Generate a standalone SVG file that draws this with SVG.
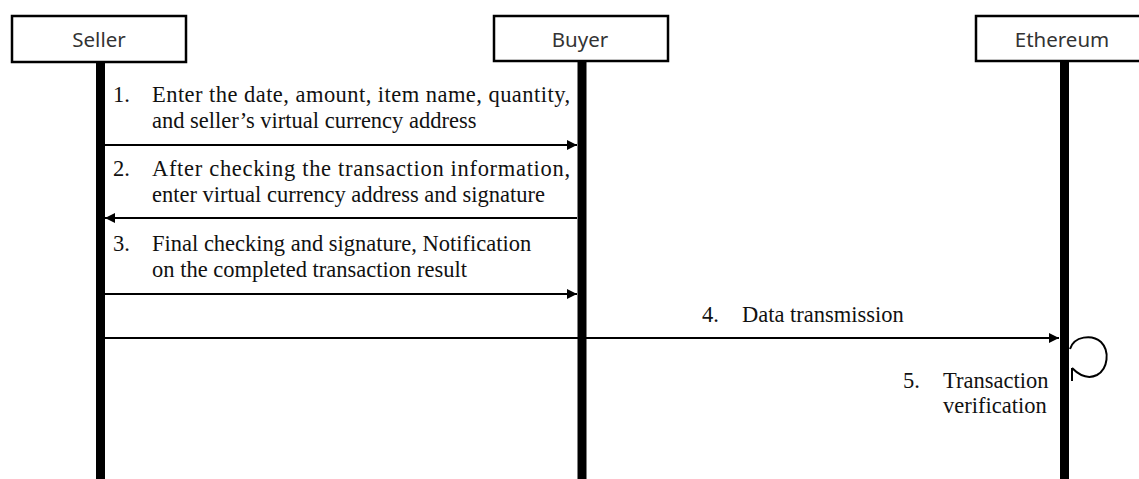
<svg xmlns="http://www.w3.org/2000/svg" width="1139" height="479" viewBox="0 0 1139 479">
<defs>
<style>
.box{fill:#fff;stroke:#000;stroke-width:2.5}
.life{stroke:#000;stroke-width:9}
.lbl{font-family:"Noto Sans","Open Sans",sans-serif;font-size:20.5px;fill:#333;text-anchor:middle}
.msg{font-family:"Liberation Serif","Times New Roman",serif;font-size:22.5px;fill:#111}
.arr{stroke:#000;stroke-width:2;fill:none}
</style>
<marker id="ah" viewBox="0 0 10 10" refX="10" refY="5" markerWidth="12" markerHeight="10" markerUnits="userSpaceOnUse" orient="auto">
<path d="M0,0 L10,5 L0,10 Z" fill="#000"/>
</marker>
</defs>
<rect width="1139" height="479" fill="#fff"/>
<g id="seller">
<line class="life" x1="100.5" y1="62" x2="100.5" y2="479"/>
<rect class="box" x="12" y="16" width="174" height="46"/>
<text class="lbl" x="99" y="47">Seller</text>
</g>
<g id="buyer">
<line class="life" x1="582" y1="61" x2="582" y2="479"/>
<rect class="box" x="494" y="16" width="174" height="45"/>
<text class="lbl" x="580" y="47">Buyer</text>
</g>
<g id="ethereum">
<line class="life" x1="1064.5" y1="61" x2="1064.5" y2="479"/>
<rect class="box" x="976" y="16" width="174" height="45"/>
<text class="lbl" x="1062" y="47">Ethereum</text>
</g>
<g id="connectors">
<line class="arr" x1="105" y1="145" x2="577" y2="145" marker-end="url(#ah)"/>
<line class="arr" x1="577" y1="218" x2="105" y2="218" marker-end="url(#ah)"/>
<line class="arr" x1="105" y1="294" x2="577" y2="294" marker-end="url(#ah)"/>
<line class="arr" x1="105" y1="338" x2="1059" y2="338" marker-end="url(#ah)"/>
<path class="arr" d="M1070,349 C1074,336 1092,334 1101,342 C1110,351 1108,369 1097,375 C1089,379 1081,377 1072,368"/>
<path class="arr" d="M1072,368 L1072,381"/>
</g>
<g id="labels">
<text class="msg" x="113" y="102">1.</text>
<text class="msg" x="152" y="102" textLength="418">Enter the date, amount, item name, quantity,</text>
<text class="msg" x="152" y="128">and seller’s virtual currency address</text>
<text class="msg" x="113" y="176">2.</text>
<text class="msg" x="152" y="176" textLength="418">After checking the transaction information,</text>
<text class="msg" x="152" y="202">enter virtual currency address and signature</text>
<text class="msg" x="113" y="251">3.</text>
<text class="msg" x="152" y="251">Final checking and signature, Notification</text>
<text class="msg" x="152" y="277">on the completed transaction result</text>
<text class="msg" x="702" y="322">4.</text>
<text class="msg" x="742" y="322">Data transmission</text>
<text class="msg" x="903" y="388">5.</text>
<text class="msg" x="943" y="388">Transaction</text>
<text class="msg" x="943" y="413">verification</text>
</g>
</svg>
